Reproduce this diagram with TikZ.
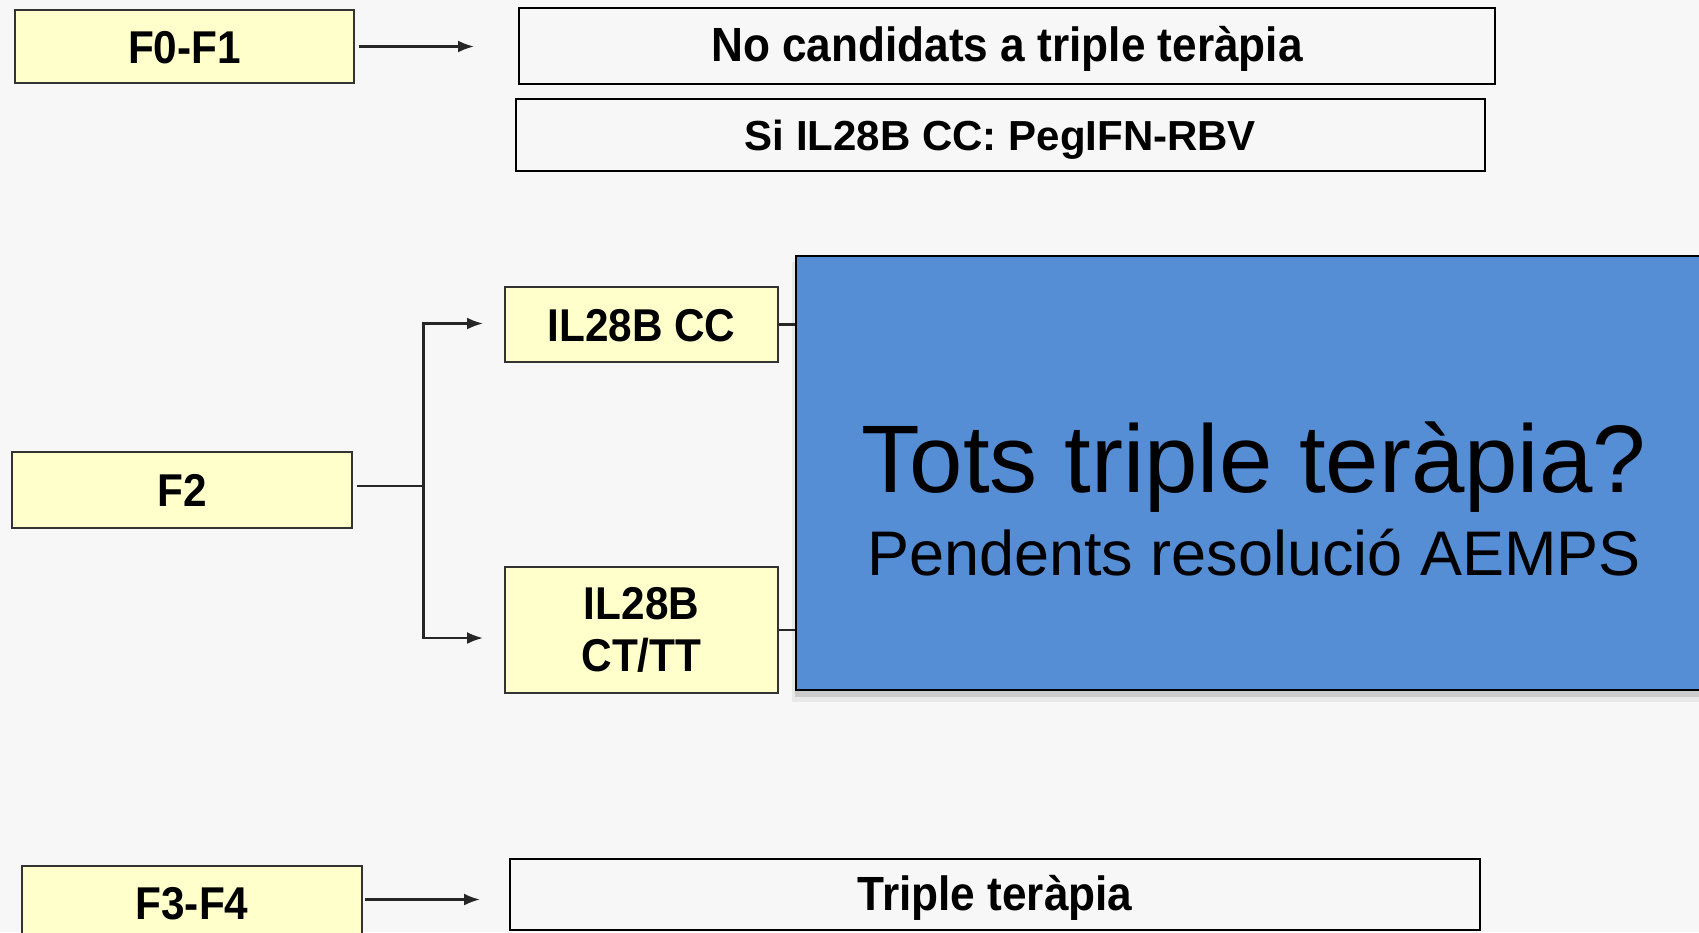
\documentclass[tikz,border=0pt]{standalone}
\usepackage{fontspec}
\setmainfont{Liberation Sans}
\newfontfamily\condfont[FakeStretch=0.92]{Liberation Sans}
\usetikzlibrary{arrows.meta}
\definecolor{bg}{HTML}{F7F7F7}
\definecolor{boxyellow}{HTML}{FFFFCC}
\definecolor{bluebox}{HTML}{558ED5}
\begin{document}
\begin{tikzpicture}[x=1pt,y=-1pt,
  ybox/.style={draw=black!80,line width=2pt,fill=boxyellow,inner sep=0pt,align=center,
    font=\condfont\fontsize{46}{52}\selectfont\bfseries,text height=33pt,text depth=0pt},
  wbox/.style={draw=black,line width=2pt,fill=bg,inner sep=0pt,align=center,
    font=\condfont\fontsize{48}{52}\selectfont\bfseries,text height=31pt,text depth=0pt},
  arr/.style={-{Latex[length=16pt,width=12pt]},line width=2.3pt,draw=black!85},
  conn/.style={line width=2.3pt,draw=black!85},
  bigtext/.style={anchor=base,inner sep=0pt}
]
\clip (0,0) rectangle (1699,932);
\fill[bg] (0,0) rectangle (1699,932);

% boxes
\node[ybox,minimum width=339pt,minimum height=73pt] (f01) at (184.5,46.5) {F0-F1};
\node[wbox,minimum width=976pt,minimum height=76pt] (nocand) at (1007,46) {No candidats a triple teràpia};
\node[wbox,line width=2.4pt,minimum width=969pt,minimum height=72pt,font=\fontsize{42}{50}\selectfont\bfseries,text height=30pt] (si) at (1000.5,135) {Si IL28B CC: PegIFN-RBV};
\node[ybox,minimum width=273pt,minimum height=75pt] (cc) at (641.5,324.5) {IL28B CC};
\node[ybox,minimum width=340pt,minimum height=76pt] (f2) at (182,490) {F2};
\node[ybox,minimum width=273pt,minimum height=126pt,text height=,text depth=] (cttt) at (641.5,630) {IL28B\\CT/TT};
\node[ybox,minimum width=340pt,minimum height=73pt] (f34) at (192,902.5) {F3-F4};
\node[wbox,minimum width=970pt,minimum height=71pt] (triple) at (995,894.5) {Triple teràpia};

% blue overlay box with shadow
\fill[black,opacity=0.06] (792,262) rectangle (1720,702);
\fill[black,opacity=0.12] (795,262) rectangle (1720,697);
\node[draw=black,line width=1.6pt,fill=bluebox,inner sep=0pt,minimum width=924pt,minimum height=434pt] (blue) at (1258,473) {};
\node[bigtext,font=\fontsize{96}{96}\selectfont] (t1) at (1254,492) {Tots triple teràpia?};
\node[bigtext,font=\fontsize{63}{63}\selectfont] (t2) at (1254,575) {Pendents resolució AEMPS};

% connectors
\draw[arr,shorten <=4pt,shorten >=44pt] (f01.east) -- (f01.east -| nocand.west);
\coordinate (junc) at (423.6,486);
\draw[conn,shorten <=4pt] (f2.east |- junc) -- (junc);
\draw[arr,shorten >=21pt] (junc) |- ([yshift=1pt]cc.west);
\draw[arr,shorten >=21pt] (junc) |- ([yshift=-8pt]cttt.west);
\draw[conn] (cc.east) -- (cc.east -| blue.west);
\draw[conn] (cttt.east) -- (cttt.east -| blue.west);
\draw[arr,shorten <=2pt,shorten >=29pt] ([yshift=3pt]f34.east) -- ([yshift=3pt]f34.east -| triple.west);
\end{tikzpicture}
\end{document}
